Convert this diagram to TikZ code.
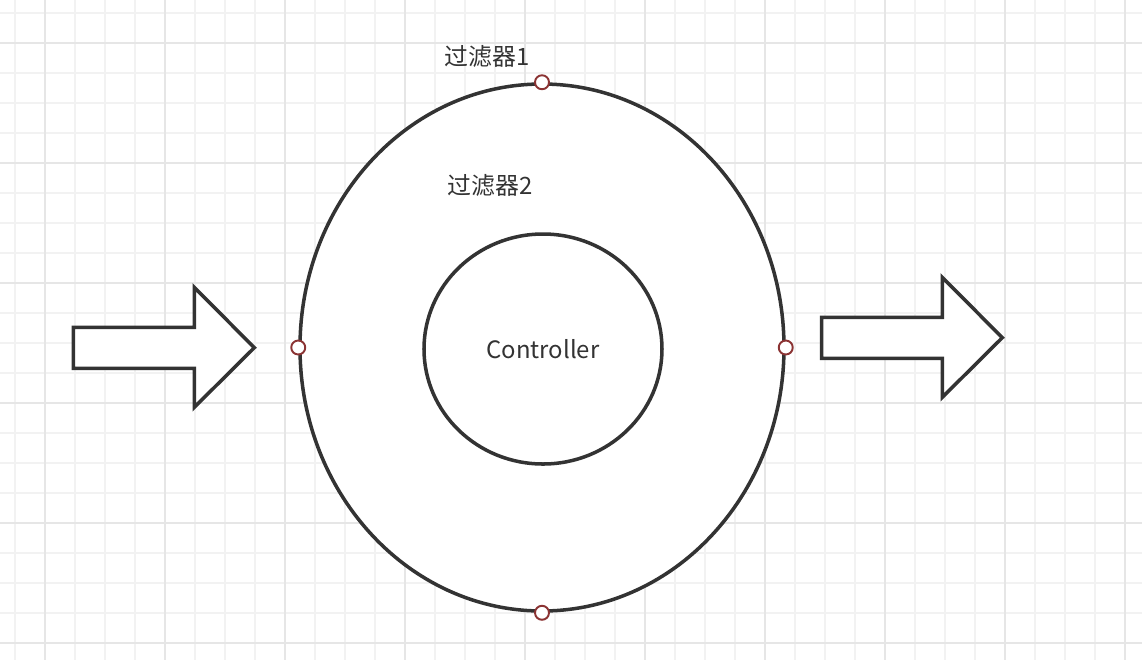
\documentclass[tikz,border=0pt]{standalone}
\usepackage{fontspec}
\setmainfont{Noto Sans CJK SC}
\usetikzlibrary{shapes.geometric}
\definecolor{ink}{HTML}{333333}
\definecolor{pin}{HTML}{8B3333}
\definecolor{gridminor}{HTML}{F2F2F2}
\definecolor{gridmajor}{HTML}{E6E6E6}
\tikzset{
  ring/.style={ellipse, draw=ink, line width=1pt, fill=white, inner sep=0pt},
  pinpt/.style={circle, draw=pin, line width=0.55pt, fill=white, minimum size=0.14cm, inner sep=0pt},
  lbl/.style={text=ink, font=\fontsize{6.8}{8}\selectfont, inner sep=0pt},
  fatarrow/.style={draw=ink, line width=1pt, fill=white, line join=miter}
}
\begin{document}
\begin{tikzpicture}
\useasboundingbox (0,0) rectangle (11.42,-6.6);
% grid
\foreach \x in {0,...,37} \draw[gridminor, line width=0.5pt] ({0.15+0.3*\x},0) -- ({0.15+0.3*\x},-6.6);
\foreach \y in {0,...,21} \draw[gridminor, line width=0.5pt] (0,{-0.127-0.3*\y}) -- (11.42,{-0.127-0.3*\y});
\foreach \x in {0,...,9} \draw[gridmajor, line width=0.6pt] ({0.45+1.2*\x},0) -- ({0.45+1.2*\x},-6.6);
\foreach \y in {0,...,5} \draw[gridmajor, line width=0.6pt] (0,{-0.427-1.2*\y}) -- (11.42,{-0.427-1.2*\y});
% rings
\node[ring, minimum width=4.84cm, minimum height=5.27cm] (filter) at (5.42,-3.475) {};
\node[ring, minimum width=2.38cm, minimum height=2.30cm, lbl] (ctrl) at (5.43,-3.49) {Controller};
\node[lbl] (f1) at (4.87,-0.56) {过滤器1};
\node[lbl] (f2) at (4.90,-1.85) {过滤器2};
% pins on the outer ring
\foreach \a in {north,south,east,west} \node[pinpt] (p-\a) at (filter.\a) {};
% in and out arrows
\draw[fatarrow] (0.733,-3.273) -- (1.943,-3.273) -- (1.943,-2.873) -- (2.543,-3.477)
  -- (1.943,-4.073) -- (1.943,-3.683) -- (0.733,-3.683) -- cycle;
\draw[fatarrow] (8.217,-3.173) -- (9.423,-3.173) -- (9.423,-2.773) -- (10.023,-3.377)
  -- (9.423,-3.973) -- (9.423,-3.583) -- (8.217,-3.583) -- cycle;
\end{tikzpicture}
\end{document}
